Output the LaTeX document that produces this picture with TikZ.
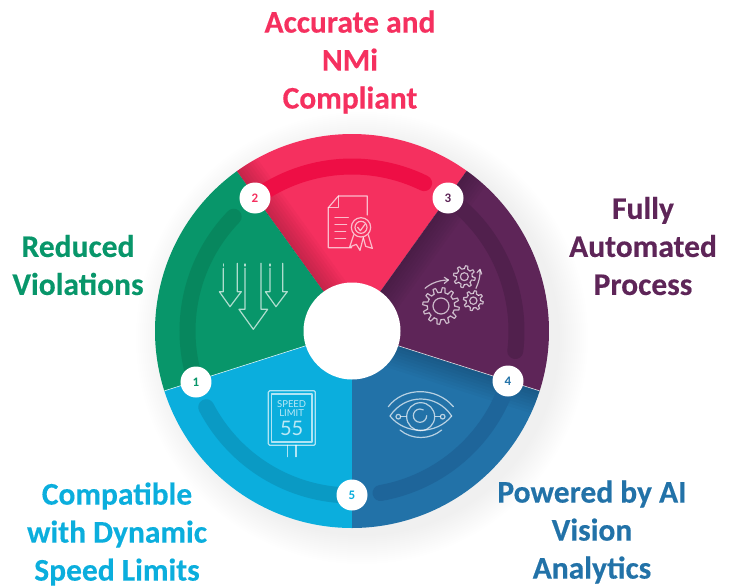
\documentclass[tikz,border=0pt]{standalone}
\usepackage{fontspec}
\setmainfont{Carlito}
\newfontfamily\capfont{Carlito Bold}[FakeBold=0.35]
\newfontfamily\signfont{Lato}
\definecolor{cRed}{HTML}{F5305F}
\definecolor{cRedA}{HTML}{EE0E45}
\definecolor{cGreen}{HTML}{08966A}
\definecolor{cGreenA}{HTML}{07875E}
\definecolor{cPurple}{HTML}{5E2558}
\definecolor{cPurpleA}{HTML}{51204D}
\definecolor{cBlue}{HTML}{2272A8}
\definecolor{cBlueA}{HTML}{1E659A}
\definecolor{cCyan}{HTML}{0BAEDD}
\definecolor{cCyanA}{HTML}{0A9AC4}
\newcommand{\wheelR}{197}
\newcommand{\sector}[3]{\fill[#3] (0,0) -- (#1:\wheelR) arc[start angle=#1,end angle=#2,radius=\wheelR] -- cycle;}
\newcommand{\ringarc}[3]{\draw[ringstroke,#3] (#1:164.5) arc[start angle=#1,end angle=#2,radius=164.5];}
\newcommand{\edgeshade}[3]{%
  \begin{scope}
    \clip (0,0) -- (#1:\wheelR) arc[start angle=#1,end angle=#2,radius=\wheelR] -- cycle;
    \foreach \w in {6,12,...,48}{\draw[black,draw opacity=.022,line width=\w pt] (0,0) -- (#3:\wheelR);}
  \end{scope}}
\newcommand{\gearshape}[5]{% cx cy outer inner teeth
  \begin{scope}[shift={(#1,#2)}]
    \pgfmathsetmacro{\st}{360/#5}
    \foreach \i in {1,...,#5}{
      \pgfmathsetmacro{\aa}{\i*\st}
      \draw[iconline] (\aa:#4) -- (\aa+.14*\st:#3) -- (\aa+.42*\st:#3) -- (\aa+.56*\st:#4) -- (\aa+\st:#4);
    }
  \end{scope}}
\tikzset{
  ringstroke/.style={line width=16pt,line cap=round},
  iconline/.style={draw=white,draw opacity=.68,line width=1.2pt,line join=round,line cap=round},
  badge/.style={circle,fill=white,minimum size=31pt,inner sep=0pt,font=\bfseries\fontsize{13}{13}\selectfont},
  caption/.style={align=center,inner sep=0pt,font=\capfont\fontsize{31.5}{38}\selectfont},
  zoomorigin/.style 2 args={shift={({#1-352},{331-#2})},x=.33333pt,y=-.33333pt}
}
\begin{document}
\begin{tikzpicture}[x=1pt,y=1pt]
\useasboundingbox (-352,-256) rectangle (381,331);
% soft shadow
\foreach \r in {198,200,...,226}{\fill[black,fill opacity=.0055] (10,-7) circle[radius=\r];}
% sectors
\sector{54.4}{125.8}{cRed}
\sector{125.8}{197.7}{cGreen}
\sector{197.7}{270}{cCyan}
\sector{270}{342.3}{cBlue}
\sector{342.3}{414.4}{cPurple}
\edgeshade{54.4}{125.8}{125.8}
\edgeshade{-17.7}{54.4}{54.4}
\edgeshade{270}{342.3}{342.3}
% ring arcs
\ringarc{125}{64}{cRedA}
\ringarc{197}{136}{cGreenA}
\ringarc{54}{-7}{cPurpleA}
\ringarc{-18}{-80}{cBlueA}
\ringarc{270}{207.6}{cCyanA}
% separators
\draw[white,line width=.6pt,draw opacity=.8] (197.7:48) -- (197.7:\wheelR);
\draw[white,line width=.6pt,draw opacity=.8] (-17.7:48) -- (-17.7:\wheelR);
% hole
\node[circle,fill=white,minimum size=97pt,inner sep=0pt] (hole) at (0,0) {};
% badges
\node[badge,text=cGreen] (b1) at (-156,-51) {1};
\node[badge,text=cRed] (b2) at (-97,133) {2};
\node[badge,text=cPurple] (b3) at (96,133) {3};
\node[badge,text=cBlue] (b4) at (156,-50) {4};
\node[badge,text=cCyan] (b5) at (0,-164) {5};
% captions
\node[caption,text=cRed] (t1) at (-2,269) {Accurate and\\NMi\\Compliant};
\node[caption,text=cGreen] (t2) at (-274,66) {Reduced\\Violations};
\node[caption,text=cPurple] (t3) at (291,85) {Fully\\Automated\\Process};
\node[caption,text=cCyan] (t4) at (-235,-203) {Compatible\\with Dynamic\\Speed Limits};
\node[caption,text=cBlue] (t5) at (240,-201) {Powered by AI\\Vision\\Analytics};
% arrows icon
\begin{scope}[zoomorigin={150}{150}]
  \draw[iconline] (220,355) -- (220,425) -- (208,425) -- (240,470) -- (274,425) -- (262,425) -- (262,340);
  \draw[iconline] (220,342) -- (220,348);
  \draw[iconline] (285,355) -- (285,478) -- (267,478) -- (310,538) -- (353,478) -- (333,478) -- (333,340);
  \draw[iconline] (285,342) -- (285,348);
  \draw[iconline] (360,355) -- (360,425) -- (346,425) -- (378,470) -- (412,425) -- (398,425) -- (398,340);
  \draw[iconline] (360,342) -- (360,348);
\end{scope}
% document icon
\begin{scope}[zoomorigin={315}{185}]
  \draw[iconline] (110,188) -- (40,188) -- (40,68) -- (70,33) -- (157,33) -- (157,90);
  \draw[iconline] (70,33) -- (70,68) -- (40,68);
  \draw[iconline] (60,97) -- (100,97) (60,118) -- (95,118) (60,140) -- (92,140) (60,160) -- (92,160);
  \draw[iconline] (138,127) circle[radius=29];
  \draw[iconline] (138,127) circle[radius=18];
  \draw[iconline] (128,127) -- (136,137) -- (150,118);
  \draw[iconline] (116,150) -- (104,186) -- (124,178) -- (135,196) -- (145,158);
  \draw[iconline] (160,150) -- (172,190) -- (152,184) -- (145,158);
\end{scope}
% gears icon
\begin{scope}[zoomorigin={415}{260}]
  \gearshape{78}{138}{55}{41}{12}
  \draw[iconline] (78,138) circle[radius=24];
  \gearshape{148}{50}{33}{24}{8}
  \draw[iconline] (148,50) circle[radius=12];
  \gearshape{175}{122}{30}{22}{8}
  \draw[iconline] (175,122) circle[radius=11];
  \draw[iconline] (30,85) .. controls (50,68) and (75,60) .. (100,60);
  \draw[iconline] (88,52) -- (100,60) -- (88,70);
  \draw[iconline] (183,85) .. controls (192,65) and (196,48) .. (195,30);
  \draw[iconline] (186,38) -- (195,28) -- (200,42);
\end{scope}
% eye icon
\begin{scope}[zoomorigin={380}{385}]
  \draw[iconline] (25,65) .. controls (70,5) and (170,5) .. (220,65);
  \draw[iconline] (30,93) .. controls (75,25) and (170,25) .. (215,93);
  \draw[iconline] (30,93) .. controls (75,150) and (170,150) .. (215,93);
  \draw[iconline] (60,135) .. controls (95,165) and (150,165) .. (185,135);
  \draw[iconline] (122,95) circle[radius=42];
  \draw[iconline] (140,92) arc[start angle=0,end angle=300,radius=20];
  \draw[iconline] (55,95) circle[radius=7];
  \draw[iconline] (188,95) circle[radius=7];
  \draw[iconline] (62,95) -- (78,95) (181,95) -- (166,95);
\end{scope}
% speed sign icon
\begin{scope}[zoomorigin={150}{340}]
  \draw[iconline,rounded corners=1.5pt] (355,152) rectangle (496,316);
  \draw[iconline] (365,162) rectangle (486,306);
  \draw[iconline] (412,316) -- (412,350) (438,316) -- (438,350);
  \node[inner sep=0pt,text=white,text opacity=.72,font=\signfont\fontsize{9.5}{9.5}\selectfont] (s1) at (425,192) {SPEED};
  \node[inner sep=0pt,text=white,text opacity=.72,font=\signfont\fontsize{9.5}{9.5}\selectfont] (s2) at (425,220) {LIMIT};
  \node[inner sep=0pt,text=white,text opacity=.72,font=\signfont\fontsize{20}{20}\selectfont] (s3) at (425,266) {55};
\end{scope}
\end{tikzpicture}
\end{document}
